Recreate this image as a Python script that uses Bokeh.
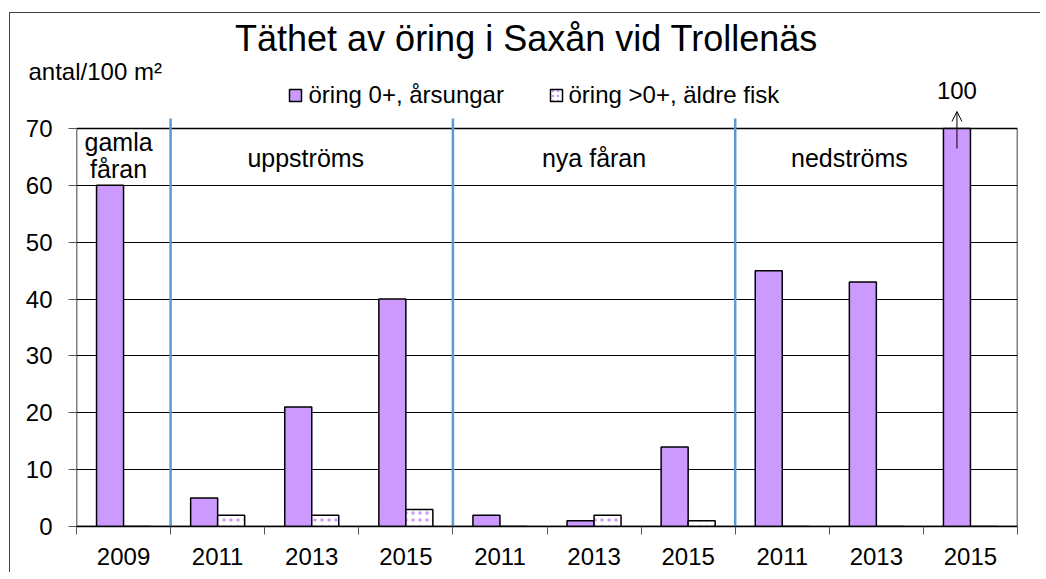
from bokeh.plotting import figure
from bokeh.layouts import column
from bokeh.models import Range1d, FixedTicker, Label, Arrow, OpenHead
from bokeh.core.properties import value
from bokeh.embed import file_html
from bokeh.resources import INLINE

# ---------------- data ----------------
years = ["2009", "2011", "2013", "2015", "2011", "2013", "2015", "2011", "2013", "2015"]
groups = ["gamla\nfåran", "uppströms", "nya fåran", "nedströms"]
group_sizes = [1, 3, 3, 3]
yoy = [60, 5, 21, 40, 2, 1, 14, 45, 43, 100]      # öring 0+, årsungar
older = [0, 2, 2, 3, 0, 2, 1, 0, 0, 0]            # öring >0+, äldre fisk
series_names = ["öring 0+, årsungar", "öring >0+, äldre fisk"]
y_ticks = [0, 10, 20, 30, 40, 50, 60, 70]
title_text = "Täthet av öring i Saxån vid Trollenäs"
unit_text = "antal/100 m²"

FONT = "Liberation Sans"
PURPLE = "#CC99FF"
BLUE = "#5B9BD5"

n = len(years)
y_max = y_ticks[-1]

# page-pixel geometry
PL, PR, PT, PB = 76, 1017, 128, 526   # value box: x extent, y of y_max and of 0
OX, OY = 10, 13                       # page position of content (margin + css border)
W = 1030
SPLIT = 110                           # page y where the header strip ends
BOTTOM = 572


def py2y(py):
    return (PB - py) / (PB - PT) * y_max


def x2px(x):
    return PL + (x - 0.5) / n * (PR - PL)


centers = [i + 1 for i in range(n)]
w = 0.287
x1 = [c - w / 2 for c in centers]
x2 = [c + w / 2 for c in centers]
yoy_shown = [min(v, y_max) for v in yoy]       # bars are cut at the axis maximum
older_shown = [min(v, y_max) for v in older]

# ================= chart figure =================
p = figure(width=W, height=BOTTOM - SPLIT, output_backend="svg", toolbar_location=None,
           x_range=Range1d(0.5, n + 0.5), y_range=Range1d(0, py2y(SPLIT)),
           min_border_left=PL - OX, min_border_right=OX + W - PR,
           min_border_top=0, min_border_bottom=BOTTOM - PB)
p.background_fill_color = "white"
p.border_fill_color = "white"
p.outline_line_color = None

p.xgrid.grid_line_color = None
p.ygrid.grid_line_color = "black"
p.ygrid.grid_line_width = 1
p.ygrid.ticker = FixedTicker(ticks=y_ticks[1:-1])

p.quad(left=[0.5], right=[n + 0.5], bottom=[0], top=[y_max], fill_color=None,
       line_color="black", line_width=1.5)

p.vbar(x=x1, top=yoy_shown, width=w, bottom=0, fill_color=PURPLE,
       line_color="black", line_width=1.5)
p.vbar(x=x2, top=older_shown, width=w, bottom=0, fill_color="white",
       hatch_pattern="dot", hatch_color=PURPLE, hatch_scale=7, hatch_weight=2,
       line_color="black", line_width=1.5)

p.xaxis.ticker = FixedTicker(ticks=centers, minor_ticks=[c - 0.5 for c in centers] + [n + 0.5])
p.xaxis.major_label_overrides = {c: y for c, y in zip(centers, years)}
p.xaxis.major_tick_out = 0
p.xaxis.major_tick_in = 0
p.xaxis.minor_tick_out = 8
p.xaxis.minor_tick_in = 0
p.xaxis.minor_tick_line_color = "#555555"
p.xaxis.axis_line_color = "black"
p.xaxis.axis_line_width = 1.5
p.xaxis.major_label_standoff = 13
p.xaxis.major_label_text_font = FONT
p.xaxis.major_label_text_font_size = "24px"
p.xaxis.major_label_text_color = "black"

p.yaxis.ticker = FixedTicker(ticks=y_ticks)
p.yaxis.major_tick_out = 8
p.yaxis.major_tick_in = 0
p.yaxis.minor_tick_line_color = None
p.yaxis.major_tick_line_color = "#555555"
p.yaxis.axis_line_color = None
p.yaxis.major_label_standoff = 16
p.yaxis.major_label_text_font = FONT
p.yaxis.major_label_text_font_size = "24px"
p.yaxis.major_label_text_color = "black"

# group separators and group labels
label_shift = [-5, -6, 0, -27]
pos = 0.5
for gi, (g, s) in enumerate(zip(groups, group_sizes)):
    mid = pos + s / 2
    lines = g.split("\n")
    if len(lines) == 1:
        p.add_layout(Label(x=mid, y=py2y(157), x_offset=label_shift[gi], text=lines[0],
                           text_align="center", text_baseline="middle", text_font=FONT,
                           text_font_size="25px", text_color="black"))
    else:
        for li, t in enumerate(lines):
            p.add_layout(Label(x=mid, y=py2y(141 + 27 * li), x_offset=label_shift[gi], text=t,
                               text_align="center", text_baseline="middle", text_font=FONT,
                               text_font_size="25px", text_color="black"))
    pos += s
    if gi < len(groups) - 1:
        p.segment(x0=[pos], x1=[pos], y0=[py2y(118)], y1=[py2y(533)],
                  line_color=BLUE, line_width=2.5)

# overflow arrows for bars above the axis maximum
over = [(c - w / 2, v) for c, v in zip(centers, yoy) if v > y_max]
for xc, v in over:
    p.add_layout(Arrow(x_start=xc, x_end=xc, y_start=py2y(148), y_end=py2y(111),
                       end=OpenHead(size=10, line_width=1, line_color="black"),
                       line_color="black", line_width=1))

# ================= header strip (title, unit, legend, overflow value) =================
top = figure(width=W, height=SPLIT - OY, output_backend="svg", toolbar_location=None,
             x_range=Range1d(OX, OX + W), y_range=Range1d(SPLIT, OY),
             x_axis_type=None, y_axis_type=None, min_border=0)
top.background_fill_color = "white"
top.border_fill_color = "white"
top.outline_line_color = None

for fig in (top, p):
    if "frame_align" in fig.properties():
        fig.frame_align = False

top.text(x=[526], y=[38], text=[title_text], text_align="center", text_baseline="middle",
         text_font=value(FONT), text_font_size=value("36px"), text_color="black")
top.text(x=[28], y=[71], text=[unit_text], text_align="left", text_baseline="middle",
         text_font=value(FONT), text_font_size=value("24px"), text_color="black")

# legend
top.rect(x=[295], y=[95], width=12, height=12, width_units="screen", height_units="screen",
         fill_color=PURPLE, line_color="black", line_width=1.5)
top.rect(x=[556], y=[95], width=12, height=12, width_units="screen", height_units="screen",
         fill_color="white", hatch_pattern="dot", hatch_color=PURPLE, hatch_scale=5,
         hatch_weight=1.5, line_color="black", line_width=1.5)
top.text(x=[308, 568], y=[94, 94], text=series_names, text_align="left",
         text_baseline="middle", text_font=value(FONT), text_font_size=value("24px"),
         text_color="black")

# value of bars above the axis maximum
top.text(x=[x2px(xc) for xc, v in over], y=[90] * len(over), text=[str(v) for xc, v in over],
         text_align="center", text_baseline="middle", text_font=value(FONT),
         text_font_size=value("24px"), text_color="black")

lay = column(top, p, spacing=0)
lay.margin = (12, 0, 0, 9)
lay.styles = {"border-top": "1px solid #404040", "border-left": "1px solid #404040"}

open("out.html", "w").write(file_html(lay, INLINE))
